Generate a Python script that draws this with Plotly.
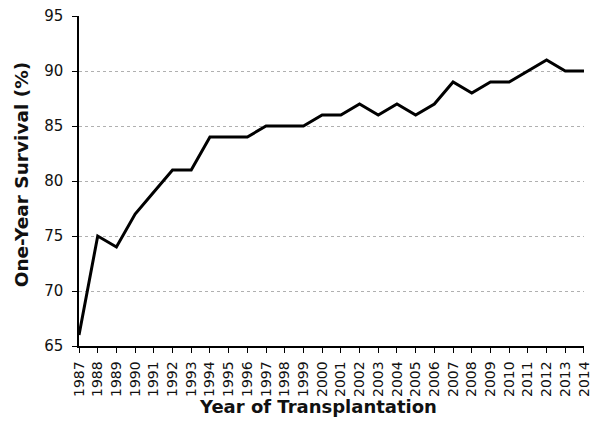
import plotly.graph_objects as go

years = list(range(1987, 2015))
survival = [66, 75, 74, 77, 79, 81, 81, 84, 84, 84, 85, 85, 85, 86, 86, 87, 86, 87, 86, 87, 89, 88, 89, 89, 90, 91, 90, 90]
y_ticks = [65, 70, 75, 80, 85, 90, 95]
x_title = "Year of Transplantation"
y_title = "One-Year Survival (%)"

fig = go.Figure(go.Scatter(x=years, y=survival, mode="lines",
                           line=dict(color="black", width=3), hoverinfo="skip"))

fig.update_layout(
    width=591, height=422,
    margin=dict(l=79, r=7, t=16, b=76, autoexpand=False),
    paper_bgcolor="white", plot_bgcolor="white",
    showlegend=False,
    font=dict(family="Liberation Sans, Arial, sans-serif", color="#111"),
    annotations=[
        dict(text="<b>" + x_title + "</b>", xref="paper", yref="paper", x=0.473, y=-0.182,
             xanchor="center", yanchor="middle", showarrow=False,
             font=dict(family="DejaVu Sans", size=18, color="#111")),
        dict(text="<b>" + y_title + "</b>", xref="paper", yref="paper", x=-0.115, y=0.52,
             xanchor="center", yanchor="middle", showarrow=False, textangle=-90,
             font=dict(family="DejaVu Sans", size=18.5, color="#111")),
    ],
)
fig.update_xaxes(
    range=[1986.999, 2014.001], tickmode="array", tickvals=years, ticktext=[str(y) for y in years],
    tickangle=-90, ticks="outside", ticklen=5, tickcolor="black", tickwidth=1.2,
    showline=True, linecolor="black", linewidth=1.5, showgrid=False, zeroline=False,
    tickfont=dict(family="DejaVu Sans", size=14, color="#111"), automargin=False,
    ticklabelstandoff=3, ticklabeloverflow="allow",
)
fig.update_yaxes(
    range=[65, 95], tickmode="array", tickvals=y_ticks,
    ticks="outside", ticklen=5, tickcolor="black", tickwidth=1.2,
    showline=True, linecolor="black", linewidth=1.5,
    showgrid=True, gridcolor="#b0b0b0", griddash="dot", gridwidth=1, zeroline=False,
    tickfont=dict(family="DejaVu Sans", size=15, color="#111"), automargin=False,
    ticklabelstandoff=6,
)
fig.write_html("out.html", config={"displayModeBar": False},
               post_script="document.body.style.margin='0';")
